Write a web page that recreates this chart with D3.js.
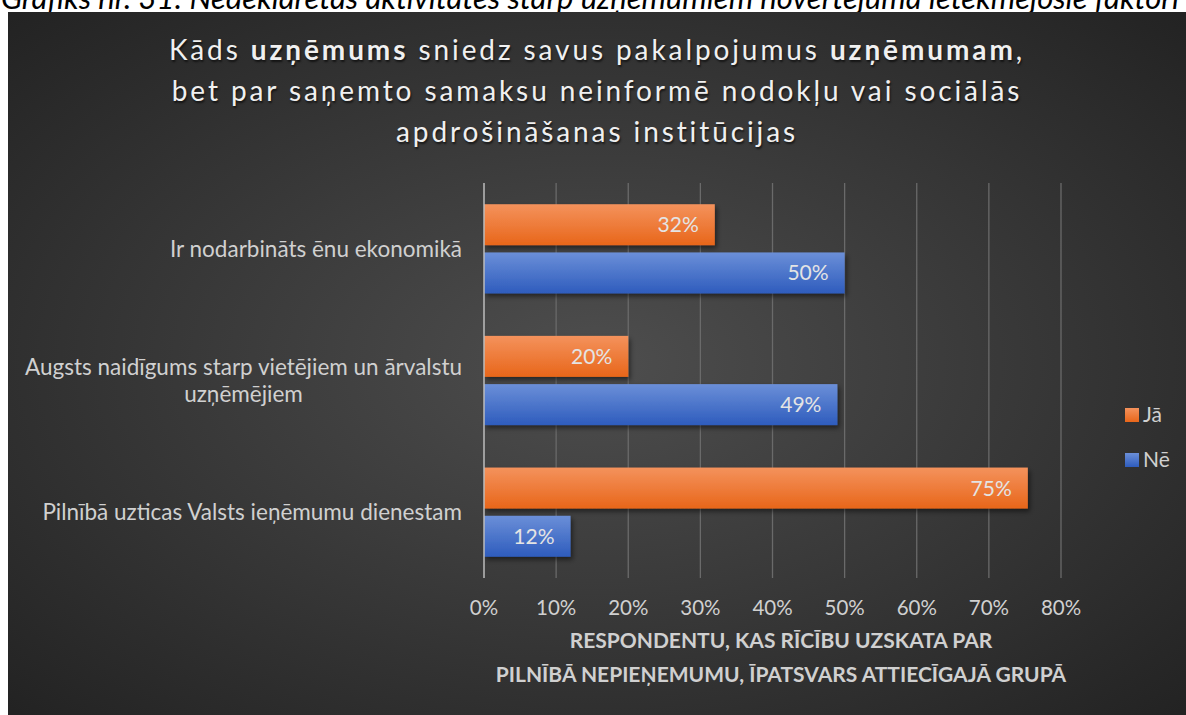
<!DOCTYPE html>
<html>
<head>
<meta charset="utf-8">
<script src="https://cdn.jsdelivr.net/npm/d3@7"></script>
<style>
body { margin: 0; background: #fff; overflow: hidden; }
text { font-family: Lato, "Open Sans", sans-serif; }
</style>
</head>
<body>
<script>
var width = 1186, height = 715

var categories = ["Ir nodarbināts ēnu ekonomikā", "Augsts naidīgums starp vietējiem un ārvalstu uzņēmējiem", "Pilnībā uzticas Valsts ieņēmumu dienestam"]
var catLines = [["Ir nodarbināts ēnu ekonomikā"], ["Augsts naidīgums starp vietējiem un ārvalstu", "uzņēmējiem"], ["Pilnībā uzticas Valsts ieņēmumu dienestam"]]
var seriesNames = ["Jā", "Nē"]
var jaValues = [0.32, 0.20, 0.754]
var neValues = [0.50, 0.49, 0.12]
var tickValues = [0, 0.1, 0.2, 0.3, 0.4, 0.5, 0.6, 0.7, 0.8]
var colors = {"Jā": ["#f4925c", "#e8661a"], "Nē": ["#6b8fd8", "#2e5cbd"]}

var svg = d3.select("body").append("svg")
	.attr("width", width)
	.attr("height", height)

var defs = svg.append("defs")
var bg = defs.append("radialGradient").attr("id", "bg")
	.attr("cx", "50%").attr("cy", "50%").attr("r", "70%")
bg.append("stop").attr("offset", "0%").attr("stop-color", "#4e4e4e")
bg.append("stop").attr("offset", "100%").attr("stop-color", "#232323")

seriesNames.forEach(function(s, i) {
	var g = defs.append("linearGradient").attr("id", "grad" + i)
		.attr("x1", 0).attr("y1", 0).attr("x2", 0).attr("y2", 1)
	g.append("stop").attr("offset", "0%").attr("stop-color", colors[s][0])
	g.append("stop").attr("offset", "100%").attr("stop-color", colors[s][1])
})
var shadow = defs.append("filter").attr("id", "shadow")
	.attr("x", "-10%").attr("y", "-20%").attr("width", "130%").attr("height", "160%")
shadow.append("feDropShadow").attr("dx", 2).attr("dy", 3).attr("stdDeviation", 2.5)
	.attr("flood-color", "#000").attr("flood-opacity", 0.5)

// caption above the chart, cut at the top
svg.append("text")
	.attr("x", 1).attr("y", 9)
	.attr("font-size", 31)
	.attr("font-style", "italic")
	.attr("fill", "#000")
	.text("Grafiks nr. 31: Nedeklarētas aktivitātes starp uzņēmumiem novērtējumā ietekmējošie faktori")

svg.append("rect")
	.attr("x", 8).attr("y", 12)
	.attr("width", width - 8).attr("height", height - 12)
	.attr("fill", "url(#bg)")

// title
var titleLines = [
	[["Kāds ", false], ["uzņēmums", true], [" sniedz savus pakalpojumus ", false], ["uzņēmumam", true], [",", false]],
	[["bet par saņemto samaksu neinformē nodokļu vai sociālās", false]],
	[["apdrošināšanas institūcijas", false]]
]
var title = svg.append("text")
	.attr("text-anchor", "middle")
	.attr("font-size", 28)
	.attr("letter-spacing", 2.9)
	.attr("fill", "#f0f0f0")
	.style("text-shadow", "1px 2px 2px rgba(0,0,0,0.6)")
titleLines.forEach(function(line, i) {
	var t = title.append("tspan").attr("x", 597).attr("y", 60 + i * 41)
	line.forEach(function(part, j) {
		var sp = j == 0 ? t : title.append("tspan")
		sp.text(part[0])
		sp.attr("font-weight", part[1] ? "bold" : "normal")
	})
})

var margin = {left: 484, right: 1061, top: 183, bottom: 578}

var x = d3.scaleLinear().domain([0, 0.8]).range([margin.left, margin.right])
var y0 = d3.scaleBand().domain(categories).range([margin.top, margin.bottom]).paddingInner(0).paddingOuter(0)
var y1 = d3.scaleBand().domain(seriesNames).range([0, y0.bandwidth()]).paddingInner(0.15).paddingOuter(0.44)

// gridlines
svg.append("g").selectAll("line")
	.data(tickValues.slice(1))
	.enter().append("line")
	.attr("x1", function(d) { return x(d) }).attr("x2", function(d) { return x(d) })
	.attr("y1", margin.top).attr("y2", margin.bottom)
	.attr("stroke", "#6a6a6a").attr("stroke-width", 1.3)

// tick labels
svg.append("g").selectAll("text")
	.data(tickValues)
	.enter().append("text")
	.attr("x", function(d) { return x(d) })
	.attr("y", 615)
	.attr("text-anchor", "middle")
	.attr("font-size", 20.5)
	.attr("fill", "#d0d0d0")
	.text(d3.format(".0%"))

var rows = categories.map(function(c, i) {
	return {cat: c, values: [{s: "Jā", v: jaValues[i], k: 0}, {s: "Nē", v: neValues[i], k: 1}]}
})

var groups = svg.append("g").selectAll("g")
	.data(rows)
	.enter().append("g")
	.attr("transform", function(d) { return "translate(0," + y0(d.cat) + ")" })

groups.selectAll("rect")
	.data(function(d) { return d.values })
	.enter().append("rect")
	.attr("x", x(0))
	.attr("y", function(d) { return y1(d.s) })
	.attr("width", function(d) { return x(d.v) - x(0) })
	.attr("height", y1.bandwidth())
	.attr("fill", function(d) { return "url(#grad" + d.k + ")" })
	.attr("filter", "url(#shadow)")

groups.selectAll("text.val")
	.data(function(d) { return d.values })
	.enter().append("text")
	.attr("class", "val")
	.attr("x", function(d) { return x(d.v) - 16 })
	.attr("y", function(d) { return y1(d.s) + y1.bandwidth() / 2 + 7.5 })
	.attr("text-anchor", "end")
	.attr("font-size", 21)
	.attr("fill", "#e4e4e4")
	.text(function(d) { return d3.format(".0%")(d.v) })

// y axis line
svg.append("line")
	.attr("x1", x(0)).attr("x2", x(0))
	.attr("y1", margin.top).attr("y2", margin.bottom)
	.attr("stroke", "#bcbcbc").attr("stroke-width", 1.5)

// category labels
categories.forEach(function(c, i) {
	var lines = catLines[i]
	var cy = y0(c) + y0.bandwidth() / 2
	var lh = 27
	var startY = cy - (lines.length - 1) * lh / 2 + 8
	var first = svg.append("text")
		.attr("x", 462).attr("y", startY)
		.attr("text-anchor", "end")
		.attr("font-size", 22.5)
		.attr("fill", "#d0d0d0")
		.text(lines[0])
	var w = first.node().getComputedTextLength()
	for (var k = 1; k < lines.length; k++) {
		svg.append("text")
			.attr("x", 462 - w / 2).attr("y", startY + k * lh)
			.attr("text-anchor", "middle")
			.attr("font-size", 22.5)
			.attr("fill", "#d0d0d0")
			.text(lines[k])
	}
})

// x axis title
var xTitle = ["RESPONDENTU, KAS RĪCĪBU UZSKATA PAR", "PILNĪBĀ NEPIEŅEMUMU, ĪPATSVARS ATTIECĪGAJĀ GRUPĀ"]
xTitle.forEach(function(t, i) {
	svg.append("text")
		.attr("x", 781).attr("y", 648 + i * 34)
		.attr("text-anchor", "middle")
		.attr("font-size", 21)
		.attr("font-weight", "bold")
		.attr("fill", "#d0d0d0")
		.text(t)
})

// legend
var legend = svg.append("g").selectAll("g")
	.data(seriesNames)
	.enter().append("g")
	.attr("transform", function(d, i) { return "translate(1125," + (408 + i * 45) + ")" })
legend.append("rect")
	.attr("width", 14).attr("height", 14)
	.attr("fill", function(d, i) { return "url(#grad" + i + ")" })
legend.append("text")
	.attr("x", 18).attr("y", 14)
	.attr("font-size", 21)
	.attr("fill", "#d0d0d0")
	.text(function(d) { return d })
</script>
</body>
</html>
